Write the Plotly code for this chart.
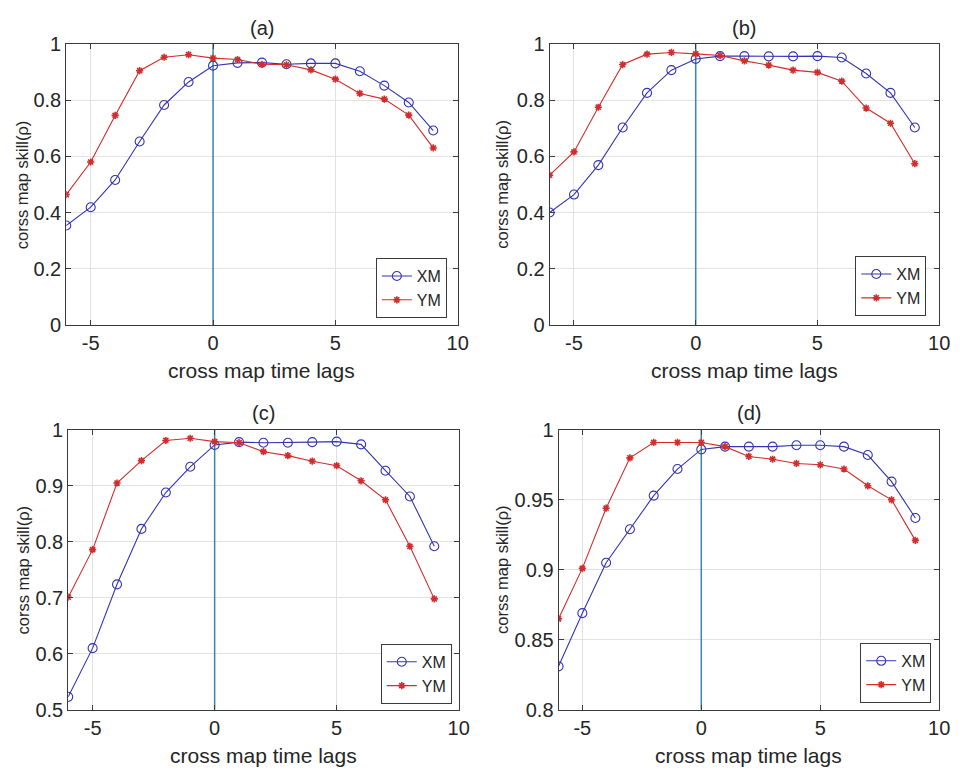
import plotly.graph_objects as go

# ---------------- data ----------------
lags = [-6, -5, -4, -3, -2, -1, 0, 1, 2, 3, 4, 5, 6, 7, 8, 9]

xm_a = [0.354, 0.419, 0.516, 0.653, 0.783, 0.865, 0.923, 0.933, 0.934, 0.928, 0.931, 0.931, 0.903, 0.852, 0.792, 0.692]
ym_a = [0.464, 0.580, 0.746, 0.905, 0.953, 0.962, 0.950, 0.945, 0.928, 0.926, 0.908, 0.875, 0.824, 0.804, 0.747, 0.630]

xm_b = [0.400, 0.464, 0.569, 0.703, 0.826, 0.907, 0.947, 0.957, 0.957, 0.956, 0.956, 0.957, 0.952, 0.895, 0.826, 0.703]
ym_b = [0.533, 0.616, 0.775, 0.927, 0.964, 0.970, 0.965, 0.959, 0.940, 0.925, 0.907, 0.899, 0.868, 0.772, 0.718, 0.574]

xm_c = [0.523, 0.610, 0.724, 0.823, 0.888, 0.934, 0.973, 0.978, 0.977, 0.977, 0.978, 0.979, 0.974, 0.927, 0.881, 0.792]
ym_c = [0.701, 0.786, 0.905, 0.945, 0.981, 0.985, 0.979, 0.977, 0.961, 0.954, 0.944, 0.936, 0.909, 0.875, 0.792, 0.698]

xm_d = [0.831, 0.869, 0.905, 0.929, 0.953, 0.972, 0.986, 0.988, 0.988, 0.988, 0.989, 0.989, 0.988, 0.982, 0.963, 0.937]
ym_d = [0.865, 0.901, 0.944, 0.980, 0.991, 0.991, 0.991, 0.988, 0.981, 0.979, 0.976, 0.975, 0.972, 0.960, 0.950, 0.921]

panel_titles = ["(a)", "(b)", "(c)", "(d)"]
series_names = ["XM", "YM"]
x_ticks = [-5, 0, 5, 10]
x_range = [-6, 10]
y_ticks_ab = [0, 0.2, 0.4, 0.6, 0.8, 1]
y_ticklabels_ab = ["0", "0.2", "0.4", "0.6", "0.8", "1"]
y_ticks_c = [0.5, 0.6, 0.7, 0.8, 0.9, 1]
y_ticklabels_c = ["0.5", "0.6", "0.7", "0.8", "0.9", "1"]
y_ticks_d = [0.8, 0.85, 0.9, 0.95, 1]
y_ticklabels_d = ["0.8", "0.85", "0.9", "0.95", "1"]
ref_lag = 0
x_label = "cross map time lags"
y_label = "corss map skill(\u03c1)"

# ---------------- layout helpers ----------------
W, H = 963, 780
FONT = "Liberation Sans, Arial, Helvetica, sans-serif"
TXT = "#262626"
AXC = "#3a3a3a"
GRID = "#e2e2e2"
BLUE = "#3434b4"
RED = "#d22c2c"
VLINE = "#3a86aa"

def px(x):
    return x / W

def py(y):
    return 1 - y / H

# pixel boxes of each axes: left, right, top, bottom
boxes = [(67, 463, 34, 323), (556, 950, 34, 323), (69, 464, 431, 719), (565, 950, 431, 719)]
legend_pos = [(452, 316), (937, 314), (457, 713), (942, 712)]
ytitle_x = [23, 508, 23, 508]

panels = [
    (xm_a, ym_a, y_ticks_ab, y_ticklabels_ab),
    (xm_b, ym_b, y_ticks_ab, y_ticklabels_ab),
    (xm_c, ym_c, y_ticks_c, y_ticklabels_c),
    (xm_d, ym_d, y_ticks_d, y_ticklabels_d),
]

fig = go.Figure()
layout = dict(
    width=W, height=H,
    margin=dict(l=0, r=0, t=0, b=0),
    paper_bgcolor="white", plot_bgcolor="white",
    font=dict(family=FONT, color=TXT, size=19),
    showlegend=True,
)
annotations = []

for i, (xm, ym, yt, ytl) in enumerate(panels):
    n = i + 1
    sfx = "" if n == 1 else str(n)
    xa, ya = "x" + sfx, "y" + sfx
    leg = "legend" + sfx
    l, r, t, b = boxes[i]

    # vertical reference line at lag 0 (spans full y range)
    fig.add_trace(go.Scatter(
        x=[ref_lag, ref_lag], y=[yt[0], yt[-1]], mode="lines",
        xaxis=xa, yaxis=ya, showlegend=False, hoverinfo="skip",
        line=dict(color=VLINE, width=1.5),
    ))
    fig.add_trace(go.Scatter(
        x=lags, y=xm, name=series_names[0], mode="lines+markers",
        xaxis=xa, yaxis=ya, legend=leg,
        line=dict(color=BLUE, width=1.1),
        marker=dict(symbol="circle-open", size=9, color=BLUE, line=dict(width=1.1, color=BLUE)),
    ))
    fig.add_trace(go.Scatter(
        x=lags, y=ym, name=series_names[1], mode="lines+markers",
        xaxis=xa, yaxis=ya, legend=leg,
        line=dict(color=RED, width=1.1),
        marker=dict(symbol="asterisk-open", size=6, color=RED, line=dict(width=1.6, color=RED)),
    ))

    common = dict(
        showline=True, linecolor=AXC, linewidth=1, mirror="ticks",
        ticks="inside", ticklen=5, tickcolor=AXC, tickwidth=1,
        showgrid=True, gridcolor=GRID, gridwidth=1, zeroline=False,
        tickfont=dict(family=FONT, size=20, color=TXT),
    )
    layout["xaxis" + sfx] = dict(
        domain=[px(l), px(r)], anchor=ya, range=x_range,
        tickmode="array", tickvals=x_ticks, ticktext=[str(v) for v in x_ticks],
        **common,
    )
    layout["yaxis" + sfx] = dict(
        domain=[py(b), py(t)], anchor=xa, range=[yt[0], yt[-1]],
        tickmode="array", tickvals=yt, ticktext=ytl,
        **common,
    )
    lx, ly = legend_pos[i]
    layout[leg] = dict(
        x=px(lx), y=py(ly), xanchor="right", yanchor="bottom",
        xref="paper", yref="paper",
        bgcolor="white", bordercolor=AXC, borderwidth=1,
        font=dict(family=FONT, size=16, color=TXT),
        itemwidth=30, tracegroupgap=0,
    )

    # panel title
    annotations.append(dict(
        text=panel_titles[i], xref="paper", yref="paper",
        x=px((l + r) / 2), y=py(t - 17), xanchor="center", yanchor="middle",
        showarrow=False, font=dict(family=FONT, size=20, color=TXT),
    ))
    # x axis title
    annotations.append(dict(
        text=x_label, xref="paper", yref="paper",
        x=px((l + r) / 2), y=py(b + 47), xanchor="center", yanchor="middle",
        showarrow=False, font=dict(family=FONT, size=21, color=TXT),
    ))
    # y axis title
    annotations.append(dict(
        text=y_label, xref="paper", yref="paper", textangle=-90,
        x=px(ytitle_x[i]), y=py((t + b) / 2), xanchor="center", yanchor="middle",
        showarrow=False, font=dict(family=FONT, size=16.5, color=TXT),
    ))

layout["annotations"] = annotations
fig.update_layout(**layout)
fig.write_html("out.html", post_script="document.body.style.margin='0';",
               config={"displayModeBar": False})
